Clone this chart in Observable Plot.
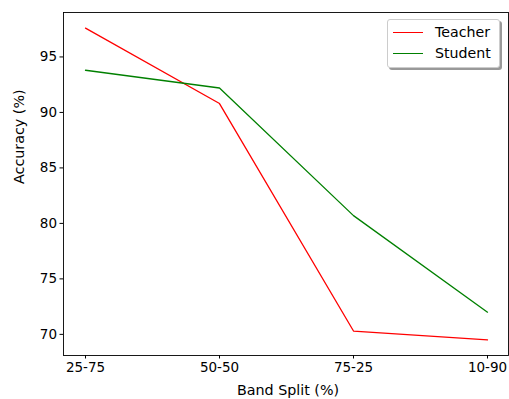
<!DOCTYPE html>
<html>
<head>
<meta charset="utf-8">
<script src="https://cdn.jsdelivr.net/npm/d3@7"></script>
<script src="https://cdn.jsdelivr.net/npm/@observablehq/plot@0.6"></script>
<style>
  html, body { margin: 0; padding: 0; background: white; }
  #wrap { position: relative; width: 509px; height: 399px; font-family: "DejaVu Sans", sans-serif; }
  #legend { position: absolute; left: 387px; top: 19px; width: 111px; height: 47px; border: 1px solid #cccccc; border-radius: 3px; background: white; box-shadow: 2px 2px 0 #999; font-size: 14.2px; }
  .item { position: absolute; left: 5px; height: 16px; display: flex; align-items: center; }
  .item .sw { width: 30px; height: 0; border-top: 1.3px solid; margin-right: 12px; }
</style>
</head>
<body>
<div id="wrap"></div>
<script>
const categories = ["25-75", "50-50", "75-25", "10-90"];
const teacher = [97.6, 90.8, 70.3, 69.5];
const student = [93.8, 92.2, 80.7, 72.0];
const yTicks = [70, 75, 80, 85, 90, 95];
const seriesNames = ["Teacher", "Student"];
const seriesColors = ["#ff0000", "#008000"];

const rows = [];
categories.forEach((c, i) => {
  rows.push({cat: c, value: teacher[i], series: seriesNames[0]});
  rows.push({cat: c, value: student[i], series: seriesNames[1]});
});

const chart = Plot.plot({
  width: 509,
  height: 399,
  marginLeft: 63,
  marginRight: 1,
  marginTop: 12,
  marginBottom: 44,
  style: {fontFamily: "DejaVu Sans", fontSize: "13.5px", color: "#000", background: "white"},
  x: {type: "point", domain: categories, padding: 0.15, label: null},
  y: {domain: [68.095, 99.005], label: null},
  color: {domain: seriesNames, range: seriesColors},
  marks: [
    Plot.axisX({tickSize: 3.5, tickPadding: 3, label: null, fontSize: 13.5}),
    Plot.axisY({ticks: yTicks, tickSize: 3.5, tickPadding: 3, label: null, fontSize: 13.5}),
    Plot.line(rows, {x: "cat", y: "value", z: "series", stroke: "series", strokeWidth: 1.3}),
    Plot.frame({stroke: "#000", strokeWidth: 0.9}),
    Plot.text(["Band Split (%)"], {frameAnchor: "bottom", dy: 35, dx: 2, text: d => d, fontSize: 14.3, lineAnchor: "middle"}),
    Plot.text(["Accuracy (%)"], {frameAnchor: "left", dx: -44, rotate: -90, text: d => d, fontSize: 14.3})
  ]
});

const wrap = document.getElementById("wrap");
wrap.appendChild(chart);
const legend = document.createElement("div");
legend.id = "legend";
seriesNames.forEach((name, i) => {
  const it = document.createElement("div");
  it.className = "item";
  it.style.top = (i === 0 ? 4 : 25) + "px";
  const sw = document.createElement("span");
  sw.className = "sw";
  sw.style.borderTopColor = seriesColors[i];
  const t = document.createElement("span");
  t.textContent = name;
  it.appendChild(sw);
  it.appendChild(t);
  legend.appendChild(it);
});
wrap.appendChild(legend);
</script>
</body>
</html>
